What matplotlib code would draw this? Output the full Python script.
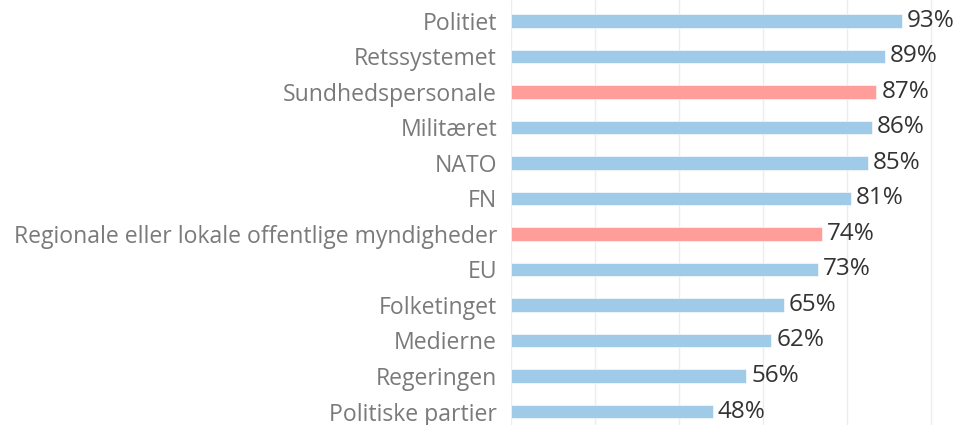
import matplotlib
matplotlib.use("Agg")
import matplotlib.pyplot as plt

categories = ["Politiet", "Retssystemet", "Sundhedspersonale", "Militæret", "NATO", "FN",
              "Regionale eller lokale offentlige myndigheder", "EU", "Folketinget",
              "Medierne", "Regeringen", "Politiske partier"]
values = [93, 89, 87, 86, 85, 81, 74, 73, 65, 62, 56, 48]
highlight = [False, False, True, False, False, False, True, False, False, False, False, False]

BLUE = "#A0CBE8"
RED = "#FF9D9A"

plt.rcParams['font.family'] = ['Open Sans', 'DejaVu Sans']

fig = plt.figure(figsize=(9.72, 4.25), dpi=100)
ax = fig.add_axes([511/972, 0, (972-511)/972, 1])

ypos = list(range(len(categories)))
colors = [RED if h else BLUE for h in highlight]
ax.barh(ypos, values, height=0.39, color=colors, edgecolor="#ffffff", linewidth=0.4, zorder=2)

for y, v in zip(ypos, values):
    ax.text(v + 1.2, y, f"{v}%", va="center", ha="left", fontsize=17.5, color="#333333")

ax.set_xlim(0, (972-511)/4.2)
ax.set_ylim(11.38, -0.59)
ax.set_xticks([0, 20, 40, 60, 80, 100])
ax.xaxis.grid(True, color="#ececec", linewidth=1, zorder=0)
ax.tick_params(axis="x", length=0, labelbottom=False)
ax.set_yticks(ypos)
ax.set_yticklabels(categories, fontsize=16.6, color="#7a7a7a")
ax.tick_params(axis="y", length=0, pad=10)
for s in ax.spines.values():
    s.set_visible(False)

fig.savefig("out.png", dpi=100)
